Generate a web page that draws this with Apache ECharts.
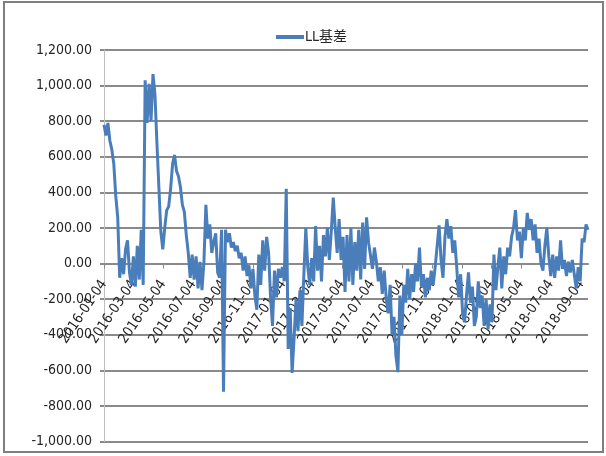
<!DOCTYPE html>
<html>
<head>
<meta charset="utf-8">
<script src="https://cdn.jsdelivr.net/npm/echarts@6/dist/echarts.min.js"></script>
<style>
  html, body { margin: 0; padding: 0; background: #fff; }
  #chart { width: 606px; height: 456px; }
</style>
</head>
<body>
<div id="chart"></div>
<script>
// Calendar span of the basis series
const startDate = '2016-01-04';
const endDate = '2018-09-18';
// Spacing, in calendar days, between consecutive basis readings
const stepDays = 4;
// Month-day the axis labels fall on, every other month
const labelDay = '04';

// LL basis readings (yuan/ton), one every stepDays from startDate
const basis = [
  780, 720, 790, 690, 640, 560, 380, 260, -80, 30,
  -60, 80, 130, -50, -120, 40, -130, 100, -90, 190,
  -120, 1030, 790, 1010, 800, 1065, 950, 680, 430, 180,
  80, 200, 300, 320, 420, 560, 610, 520, 490, 430,
  330, 290, 160, 60, -80, 50, -90, 40, -140, 10,
  -150, 10, 330, 140, 220, 60, 120, 170, -50, -80,
  190, -720, 190, 120, 170, 90, 120, 70, 100, 30,
  60, -40, 40, -70, -10, -140, -30, -180, -260, 50,
  -120, 130, -40, 150, 60, -190, -350, -40, -190, -30,
  -80, -20, -100, 420, -480, -250, -615, -420, -200, -380,
  -150, -350, -60, 200, -20, -120, 30, -100, 210, -40,
  100, -100, 160, 40, 200, 20, 180, 370, 200, 60,
  250, 20, 150, -160, 160, -100, 200, -120, 120, -40,
  190, -90, 230, -30, 260, 120, 110, -30, 90, 10,
  -100, -20, -170, -40, -190, -280, -120, -400, -300, -520,
  -610, -180, -400, -120, -220, -30, -200, -60, -160, 0,
  -100, 90, -130, -60, -190, -80, -150, -40, -120, -20,
  -30, 215, 20, -80, 150, 250, 140, 210, 60, 130,
  -20, -190, -60, -280, -330, -180, -50, -220, -130, -350,
  -300, -100, -250, -180, -350, -200, -370, -230, -330, 50,
  -150, -20, 90, -140, 40, -60, 90, 40, 150, 200,
  300, 130, 180, 30, 200, 130, 285, 190, 250, 130,
  220, 60, 140, 0, -40, 100, 200, 40, -70, 50,
  -80, 40, -40, 130, -30, 20, -70, 10, -50, 20,
  -60, -140, -20, -100, 140, 120, 220, 190
];

// Value axis range
const yMin = -1000;
const yMax = 1200;
const yStep = 200;

const seriesName = 'LL基差';

// Every calendar day between the two dates forms the category axis
const days = [];
for (let t = Date.parse(startDate); t <= Date.parse(endDate); t += 86400000) {
  days.push(new Date(t).toISOString().slice(0, 10));
}

const points = basis.map((v, i) => [i * stepDays, v]);

function isLabelDay(idx) {
  const d = days[idx];
  return d.slice(8) === labelDay && (+d.slice(5, 7)) % 2 === 1;
}

function fmt(v) {
  const s = Math.abs(v).toFixed(2);
  const [intPart, dec] = s.split('.');
  const withSep = intPart.replace(/\B(?=(\d{3})+(?!\d))/g, ',');
  return (v < 0 ? '-' : '') + withSep + '.' + dec;
}

const font = '"DejaVu Sans Condensed", "Noto Sans CJK SC", sans-serif';
const gridColor = '#8a8a8a';

// Plot box and the offset that lifts the category axis onto the zero line
const gridTop = 50;
const gridBottom = 14.5;
const plotHeight = 456 - gridTop - gridBottom;
const zeroLift = plotHeight * (0 - yMin) / (yMax - yMin);

const chart = echarts.init(document.getElementById('chart'), null, { renderer: 'canvas' });
chart.setOption({
  animation: false,
  backgroundColor: '#ffffff',
  textStyle: { fontFamily: font },
  graphic: [{
    type: 'rect',
    shape: { x: 4, y: 2, width: 599, height: 450 },
    style: { fill: 'none', stroke: '#7f7f7f', lineWidth: 2 },
    silent: true
  }],
  legend: {
    data: [seriesName],
    left: 276,
    top: 30,
    padding: 0,
    icon: 'rect',
    itemWidth: 28,
    itemHeight: 4,
    itemGap: 4,
    textStyle: { fontFamily: font, fontSize: 14, color: '#262626', padding: [0, 0, 0, -4] }
  },
  grid: { left: 104, right: 18, top: gridTop, bottom: gridBottom, containLabel: false },
  xAxis: {
    type: 'category',
    data: days,
    boundaryGap: false,
    offset: -zeroLift,
    axisLine: { onZero: false, lineStyle: { color: gridColor, width: 2 } },
    axisTick: { show: true, interval: isLabelDay, length: 5, lineStyle: { color: gridColor, width: 1 } },
    axisLabel: {
      interval: isLabelDay,
      rotate: 56,
      margin: 18,
      fontFamily: font,
      fontSize: 14,
      color: '#262626'
    },
    splitLine: { show: false }
  },
  yAxis: {
    type: 'value',
    min: yMin,
    max: yMax,
    interval: yStep,
    axisLine: { show: true, lineStyle: { color: '#bfbfbf', width: 1 } },
    axisTick: { show: true, length: 4, lineStyle: { color: gridColor, width: 2 } },
    axisLabel: {
      formatter: fmt,
      margin: 12,
      fontFamily: font,
      fontSize: 14,
      color: '#262626'
    },
    splitLine: { show: true, lineStyle: { color: gridColor, width: 2 } }
  },
  series: [{
    name: seriesName,
    type: 'line',
    data: points,
    showSymbol: false,
    symbol: 'none',
    lineStyle: { color: '#4a7ebb', width: 3 },
    itemStyle: { color: '#4a7ebb' }
  }]
});
</script>
</body>
</html>
